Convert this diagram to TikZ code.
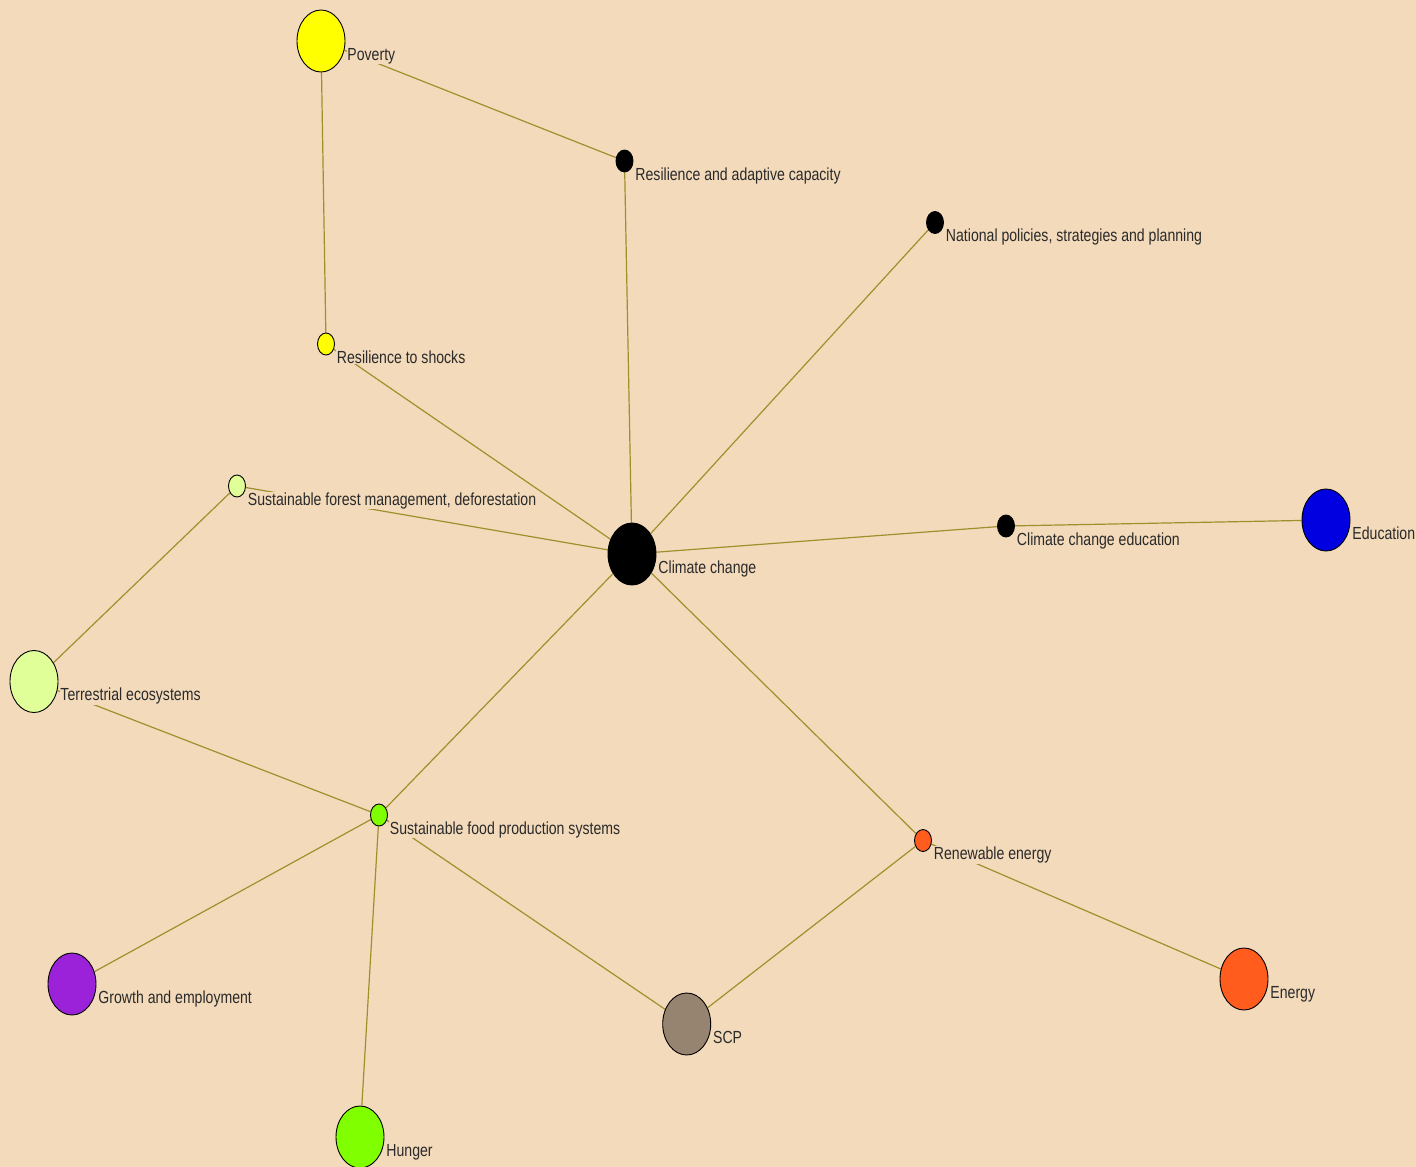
\documentclass[tikz,border=0pt]{standalone}
\usepackage{fontspec}
\setmainfont{Liberation Sans}[FakeStretch=0.805]
\usetikzlibrary{shapes.geometric,backgrounds}
\definecolor{bgc}{HTML}{F3DABB}
\definecolor{edgec}{HTML}{A0902C}
\definecolor{txtc}{HTML}{2A2A2A}
\definecolor{cyel}{HTML}{FFFF00}
\definecolor{cpale}{HTML}{E0FF98}
\definecolor{cgreen}{HTML}{80FF00}
\definecolor{cpurple}{HTML}{9B22D8}
\definecolor{cscp}{HTML}{968470}
\definecolor{corange}{HTML}{FF5C1E}
\definecolor{cblue}{HTML}{0000E0}
\begin{document}
\begin{tikzpicture}[x=1pt,y=-1pt,
  bignode/.style={ellipse,draw=black,line width=0.9pt,minimum width=48pt,minimum height=62pt,inner sep=0pt},
  smallnode/.style={ellipse,draw=black,line width=0.9pt,minimum width=17pt,minimum height=22pt,inner sep=0pt},
  lab/.style={fill=bgc,text=txtc,inner sep=0.8pt,font=\fontsize{17.5}{18}\selectfont,anchor=base west},
  edge/.style={draw=edgec,line width=1.2pt}]
\begin{scope}[on background layer]
\fill[bgc] (0,0) rectangle (1416,1167);
\end{scope}
\useasboundingbox (0,0) rectangle (1416,1167);

% nodes
\node[bignode,fill=cyel]      (POV) at (321,41) {};
\node[smallnode,fill=black]   (RAC) at (624.5,161) {};
\node[smallnode,fill=black]   (NPS) at (935,222.5) {};
\node[smallnode,fill=cyel]    (RTS) at (326,344) {};
\node[smallnode,fill=cpale]   (SFM) at (237,486) {};
\node[bignode,fill=black]     (CC)  at (632,554) {};
\node[smallnode,fill=black]   (CCE) at (1006,526) {};
\node[bignode,fill=cblue]     (EDU) at (1326,520) {};
\node[bignode,fill=cpale]     (TER) at (34,681.5) {};
\node[smallnode,fill=cgreen]  (SFP) at (379,815) {};
\node[smallnode,fill=corange] (REN) at (923,840.5) {};
\node[bignode,fill=cpurple]   (GRO) at (72,984) {};
\node[bignode,fill=cscp]      (SCP) at (686.7,1024) {};
\node[bignode,fill=corange]   (ENE) at (1244,979) {};
\node[bignode,fill=cgreen]    (HUN) at (360,1137) {};

% edges
\begin{scope}[on background layer]
\draw[edge] (POV) -- (RAC);
\draw[edge] (POV) -- (RTS);
\draw[edge] (RAC) -- (CC);
\draw[edge] (NPS) -- (CC);
\draw[edge] (RTS) -- (CC);
\draw[edge] (SFM) -- (CC);
\draw[edge] (CC) -- (CCE);
\draw[edge] (CCE) -- (EDU);
\draw[edge] (CC) -- (SFP);
\draw[edge] (CC) -- (REN);
\draw[edge] (SFM) -- (TER);
\draw[edge] (TER) -- (SFP);
\draw[edge] (SFP) -- (GRO);
\draw[edge] (SFP) -- (HUN);
\draw[edge] (SFP) -- (SCP);
\draw[edge] (SCP) -- (REN);
\draw[edge] (REN) -- (ENE);
\end{scope}

% labels
\node[lab] (lPOV) at ([xshift=1pt,yshift=-19pt]POV.east) {Poverty};
\node[lab] (lRAC) at ([xshift=1pt,yshift=-19pt]RAC.east) {Resilience and adaptive capacity};
\node[lab] (lNPS) at ([xshift=1pt,yshift=-19pt]NPS.east) {National policies, strategies and planning};
\node[lab] (lRTS) at ([xshift=1pt,yshift=-19pt]RTS.east) {Resilience to shocks};
\node[lab] (lSFM) at ([xshift=1pt,yshift=-19pt]SFM.east) {Sustainable forest management, deforestation};
\node[lab] (lCC)  at ([xshift=1pt,yshift=-19pt]CC.east)  {Climate change};
\node[lab] (lCCE) at ([xshift=1pt,yshift=-19pt]CCE.east) {Climate change education};
\node[lab] (lEDU) at ([xshift=1pt,yshift=-19pt]EDU.east) {Education};
\node[lab] (lTER) at ([xshift=1pt,yshift=-19pt]TER.east) {Terrestrial ecosystems};
\node[lab] (lSFP) at ([xshift=1pt,yshift=-19pt]SFP.east) {Sustainable food production systems};
\node[lab] (lREN) at ([xshift=1pt,yshift=-19pt]REN.east) {Renewable energy};
\node[lab] (lGRO) at ([xshift=1pt,yshift=-19pt]GRO.east) {Growth and employment};
\node[lab] (lSCP) at ([xshift=1pt,yshift=-19pt]SCP.east) {SCP};
\node[lab] (lENE) at ([xshift=1pt,yshift=-19pt]ENE.east) {Energy};
\node[lab] (lHUN) at ([xshift=1pt,yshift=-19pt]HUN.east) {Hunger};
\end{tikzpicture}
\end{document}
